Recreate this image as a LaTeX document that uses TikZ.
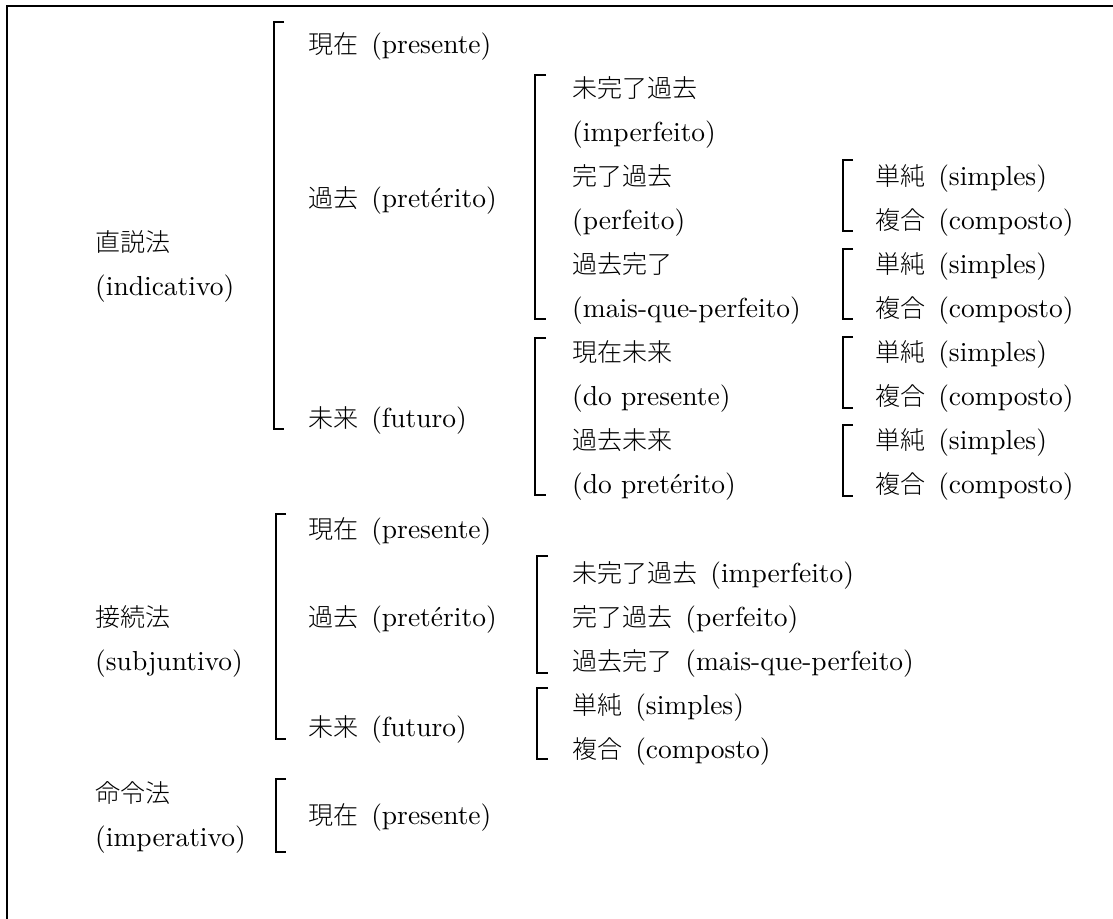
\documentclass[tikz,border=0pt]{standalone}
\usepackage{fontspec}
\setmainfont{lmroman10}[Extension=.otf, UprightFont=*-regular, BoldFont=*-bold, ItalicFont=*-italic]
\newfontfamily\jp[Scale=0.91, UprightFont={* Light}]{Noto Sans CJK JP}
\newcommand\jlbl[2]{{\jp #1}\hspace{13pt}(#2)}
\tikzset{
  lbl/.style={anchor=base west, inner sep=0pt, font=\fontsize{27.5}{31}\selectfont},
  brk/.style={line width=1.6pt}
}
\begin{document}
\begin{tikzpicture}[x=1pt,y=-1pt]
  \useasboundingbox (0,0) rectangle (1113,918);
  \clip (0,0) rectangle (1113,918);
  \draw[line width=2pt] (7,6) rectangle (1130,940);

  % indicativo
  \node[lbl] (ind)   at (95,251) {\jp 直説法};
  \node[lbl] (indl)  at (95,295) {(indicativo)};
  \node[lbl] (ipres) at (308,53)  {\jlbl{現在}{presente}};
  \node[lbl] (ipast) at (308,207) {\jlbl{過去}{pretérito}};
  \node[lbl] (ifut)  at (308,427) {\jlbl{未来}{futuro}};
  \draw[brk] (284,22) -- (274,22) -- (274,429) -- (284,429);

  \node[lbl] (iimpf)  at (572,97)  {\jp 未完了過去};
  \node[lbl] (iimpfl) at (572,141) {(imperfeito)};
  \node[lbl] (iperf)  at (572,185) {\jp 完了過去};
  \node[lbl] (iperfl) at (572,229) {(perfeito)};
  \node[lbl] (imqp)   at (572,273) {\jp 過去完了};
  \node[lbl] (imqpl)  at (572,317) {(mais-que-perfeito)};
  \draw[brk] (546,75) -- (535,75) -- (535,319) -- (546,319);

  \node[lbl] (ifpres)  at (572,361) {\jp 現在未来};
  \node[lbl] (ifpresl) at (572,405) {(do presente)};
  \node[lbl] (ifpret)  at (572,449) {\jp 過去未来};
  \node[lbl] (ifpretl) at (572,493) {(do pretérito)};
  \draw[brk] (546,338) -- (535,338) -- (535,495) -- (546,495);

  \node[lbl] (s1) at (875,185) {\jlbl{単純}{simples}};
  \node[lbl] (c1) at (875,229) {\jlbl{複合}{composto}};
  \draw[brk] (853,160) -- (843,160) -- (843,231) -- (853,231);
  \node[lbl] (s2) at (875,273) {\jlbl{単純}{simples}};
  \node[lbl] (c2) at (875,317) {\jlbl{複合}{composto}};
  \draw[brk] (853,249) -- (843,249) -- (843,319) -- (853,319);
  \node[lbl] (s3) at (875,361) {\jlbl{単純}{simples}};
  \node[lbl] (c3) at (875,405) {\jlbl{複合}{composto}};
  \draw[brk] (853,337) -- (843,337) -- (843,408) -- (853,408);
  \node[lbl] (s4) at (875,449) {\jlbl{単純}{simples}};
  \node[lbl] (c4) at (875,493) {\jlbl{複合}{composto}};
  \draw[brk] (853,425) -- (843,425) -- (843,496) -- (853,496);

  % subjuntivo
  \node[lbl] (sub)   at (95,626) {\jp 接続法};
  \node[lbl] (subl)  at (95,670) {(subjuntivo)};
  \node[lbl] (spres) at (308,538) {\jlbl{現在}{presente}};
  \node[lbl] (spast) at (308,626) {\jlbl{過去}{pretérito}};
  \node[lbl] (sfut)  at (308,736) {\jlbl{未来}{futuro}};
  \draw[brk] (286,514) -- (276,514) -- (276,739) -- (286,739);

  \node[lbl] (simpf) at (572,582) {\jlbl{未完了過去}{imperfeito}};
  \node[lbl] (sperf) at (572,626) {\jlbl{完了過去}{perfeito}};
  \node[lbl] (smqp)  at (572,670) {\jlbl{過去完了}{mais-que-perfeito}};
  \draw[brk] (548,556) -- (537,556) -- (537,673) -- (548,673);
  \node[lbl] (ssim) at (572,714) {\jlbl{単純}{simples}};
  \node[lbl] (scom) at (572,758) {\jlbl{複合}{composto}};
  \draw[brk] (548,688) -- (537,688) -- (537,759) -- (548,759);

  % imperativo
  \node[lbl] (imp)   at (95,802) {\jp 命令法};
  \node[lbl] (impl)  at (95,846) {(imperativo)};
  \node[lbl] (mpres) at (308,824) {\jlbl{現在}{presente}};
  \draw[brk] (286,779) -- (276,779) -- (276,852) -- (286,852);
\end{tikzpicture}
\end{document}
